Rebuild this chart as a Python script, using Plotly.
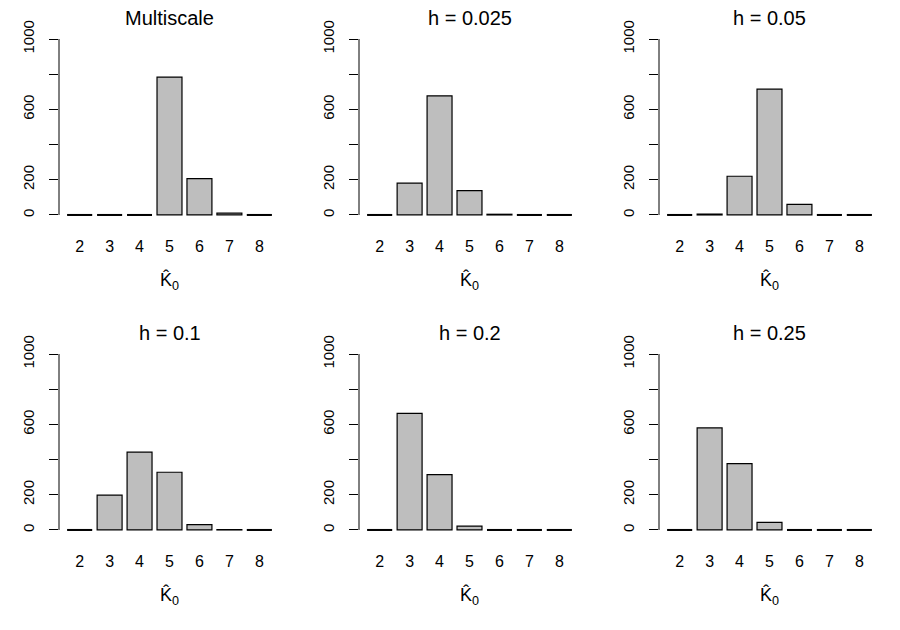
import plotly.graph_objects as go

# ---- data ----
k_values = [2, 3, 4, 5, 6, 7, 8]
panel_titles = ["Multiscale", "h = 0.025", "h = 0.05", "h = 0.1", "h = 0.2", "h = 0.25"]
counts_multiscale = [0, 0, 0, 784, 206, 10, 0]
counts_h0025 = [0, 181, 677, 138, 4, 0, 0]
counts_h005 = [0, 5, 220, 715, 60, 0, 0]
counts_h01 = [0, 198, 442, 328, 30, 2, 0]
counts_h02 = [0, 663, 315, 22, 0, 0, 0]
counts_h025 = [0, 580, 377, 43, 0, 0, 0]
y_tick_vals = [0, 200, 400, 600, 800, 1000]
y_tick_text = ["0", "200", "", "600", "", "1000"]
x_label = "K\u0302<sub>0</sub>"

all_counts = [counts_multiscale, counts_h0025, counts_h005,
              counts_h01, counts_h02, counts_h025]

W, H = 900, 630
col_left = [59, 359, 659]
plot_w = 221
row_top = [32, 347]
plot_h = 190
bar_width = 1 / 1.2
FONT = "Liberation Sans, Arial, sans-serif"

fig = go.Figure()
layout = dict(
    width=W, height=H, margin=dict(l=0, r=0, t=0, b=0, autoexpand=False),
    paper_bgcolor="white", plot_bgcolor="white",
    showlegend=False, font=dict(family=FONT, color="black"),
    annotations=[], shapes=[],
)

for i, (title, counts) in enumerate(zip(panel_titles, all_counts)):
    r, c = divmod(i, 3)
    n = i + 1
    xa = "x" if n == 1 else f"x{n}"
    ya = "y" if n == 1 else f"y{n}"
    x0 = col_left[c] / W
    x1 = (col_left[c] + plot_w) / W
    y1 = 1 - row_top[r] / H
    y0 = 1 - (row_top[r] + plot_h) / H

    fig.add_trace(go.Bar(
        x=k_values, y=counts, width=bar_width,
        marker=dict(color="#BEBEBE", line=dict(color="black", width=1.2)),
        xaxis=xa, yaxis=ya, hoverinfo="x+y",
    ))
    # zero-height bars drawn as flat outlines (as R does)
    zx, zy = [], []
    for k, v in zip(k_values, counts):
        if v == 0:
            zx += [k - bar_width / 2, k + bar_width / 2, None]
            zy += [0, 0, None]
    if zx:
        fig.add_trace(go.Scatter(
            x=zx, y=zy, mode="lines", line=dict(color="black", width=2),
            xaxis=xa, yaxis=ya, hoverinfo="skip",
        ))

    layout["xaxis" if n == 1 else f"xaxis{n}"] = dict(
        domain=[x0, x1], anchor=ya, range=[1.31, 8.69],
        tickvals=k_values, ticktext=[str(k) for k in k_values],
        showgrid=False, zeroline=False, showline=False, ticks="",
        automargin=False,
        ticklabelstandoff=13, tickfont=dict(size=16, family=FONT),
        title=dict(text=x_label, font=dict(size=18, family=FONT), standoff=19),
        fixedrange=True,
    )
    layout["yaxis" if n == 1 else f"yaxis{n}"] = dict(
        domain=[y0, y1], anchor=xa, range=[-40, 1040],
        tickvals=y_tick_vals, ticktext=y_tick_text, tickangle=-90,
        showgrid=False, zeroline=False, showline=False,
        ticks="outside", ticklen=9, tickwidth=1, tickcolor="black",
        automargin=False,
        ticklabelstandoff=9, tickfont=dict(size=15, family=FONT),
        fixedrange=True,
    )
    # R-style axis line spanning only the tick range
    layout["shapes"].append(dict(
        type="line", xref=f"{xa} domain", yref=ya,
        x0=0, x1=0, y0=y_tick_vals[0], y1=y_tick_vals[-1],
        line=dict(color="black", width=1),
    ))
    layout["annotations"].append(dict(
        text=title, showarrow=False, xref="paper", yref="paper",
        x=(x0 + x1) / 2, y=1 - (row_top[r] - 14) / H,
        xanchor="center", yanchor="middle",
        font=dict(size=20, family=FONT, color="black"),
    ))

fig.update_layout(**layout)
fig.write_html("out.html")
